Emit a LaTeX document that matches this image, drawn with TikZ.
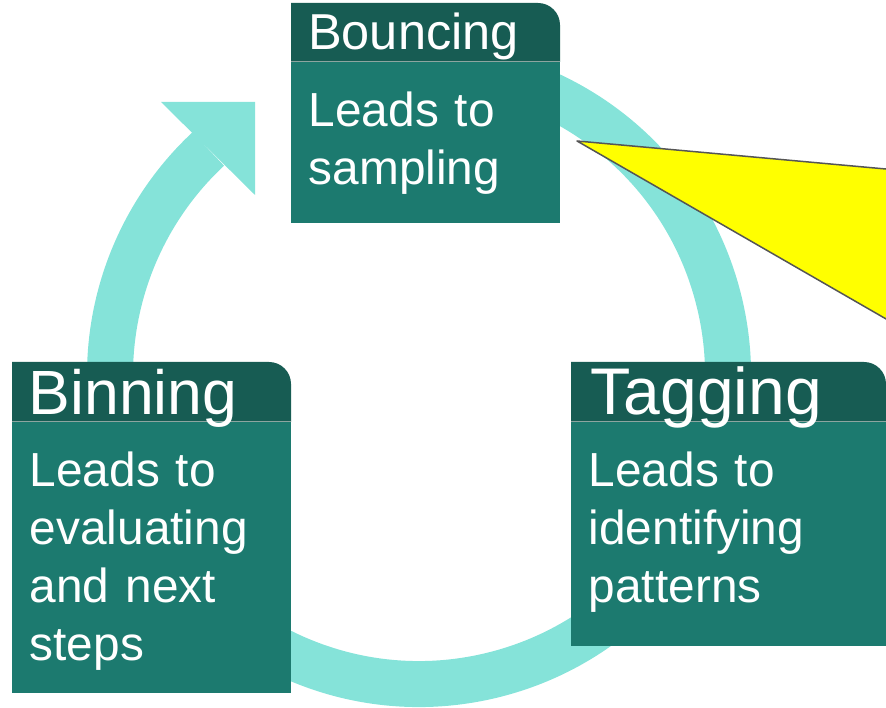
\documentclass[tikz,border=0pt]{standalone}
\usepackage{fontspec}
\setmainfont{Liberation Sans}
\definecolor{ringc}{RGB}{133,227,217}
\definecolor{hdrc}{RGB}{23,92,83}
\definecolor{bodyc}{RGB}{28,122,111}
\definecolor{sepc}{RGB}{140,165,160}
\definecolor{calloutc}{RGB}{255,255,0}
\definecolor{edgec}{RGB}{85,85,85}
\tikzset{
  hdrfill/.style={fill=hdrc},
  bodyfill/.style={fill=bodyc},
  sepline/.style={draw=sepc, line width=1pt},
  txt/.style={anchor=base west, inner sep=0pt, text=white, align=left, text width=300pt},
  bodytxt/.style={txt, font=\fontsize{47.8}{58}\selectfont},
}
\begin{document}
\begin{tikzpicture}[x=1pt,y=1pt]
\useasboundingbox (0,0) rectangle (886,708);
\clip (0,0) rectangle (886,708);
% cycle ring
\draw[ringc, line width=46pt] (419,333) ++(105:309) arc[start angle=105, end angle=-227, radius=309pt];
\fill[ringc] (161,606) -- (255,606) -- (255,513) -- cycle;
% Bouncing box
\fill[bodyfill] (291,485) rectangle (560,646);
\fill[hdrfill] (291,646) -- (291,705) -- (538,705) arc[start angle=90, end angle=0, radius=22pt] -- (560,646) -- cycle;
\draw[sepline] (291,646) -- (560,646);
% Binning box
\fill[bodyfill] (12,15) rectangle (291,286);
\fill[hdrfill] (12,286) -- (12,346) -- (269,346) arc[start angle=90, end angle=0, radius=22pt] -- (291,286) -- cycle;
\draw[sepline] (12,286) -- (291,286);
% Tagging box
\fill[bodyfill] (571,62) rectangle (886,286);
\fill[hdrfill] (571,286) -- (571,346) -- (864,346) arc[start angle=90, end angle=0, radius=22pt] -- (886,286) -- cycle;
\draw[sepline] (571,286) -- (886,286);
% texts
\node[txt, font=\fontsize{50.5}{58}\selectfont] (bouncehdr) at (308,658) {Bouncing};
\node[bodytxt] (bouncebody) at (308.6,581) {Leads to\\sampling};
\node[txt, font=\fontsize{62.5}{70}\selectfont] (binhdr) at (28.6,293) {Binning};
\node[bodytxt] (binbody) at (29.6,221) {Leads to\\evaluating\\and next\\steps};
\node[txt, font=\fontsize{66}{70}\selectfont] (taghdr) at (590.5,293) {Tagging};
\node[bodytxt] (tagbody) at (588.6,221) {Leads to\\identifying\\patterns};
% callout
\filldraw[fill=calloutc, draw=edgec, line width=1.5pt, line join=round] (577,567) -- (900,537.7) -- (900,381) -- cycle;
\end{tikzpicture}
\end{document}
